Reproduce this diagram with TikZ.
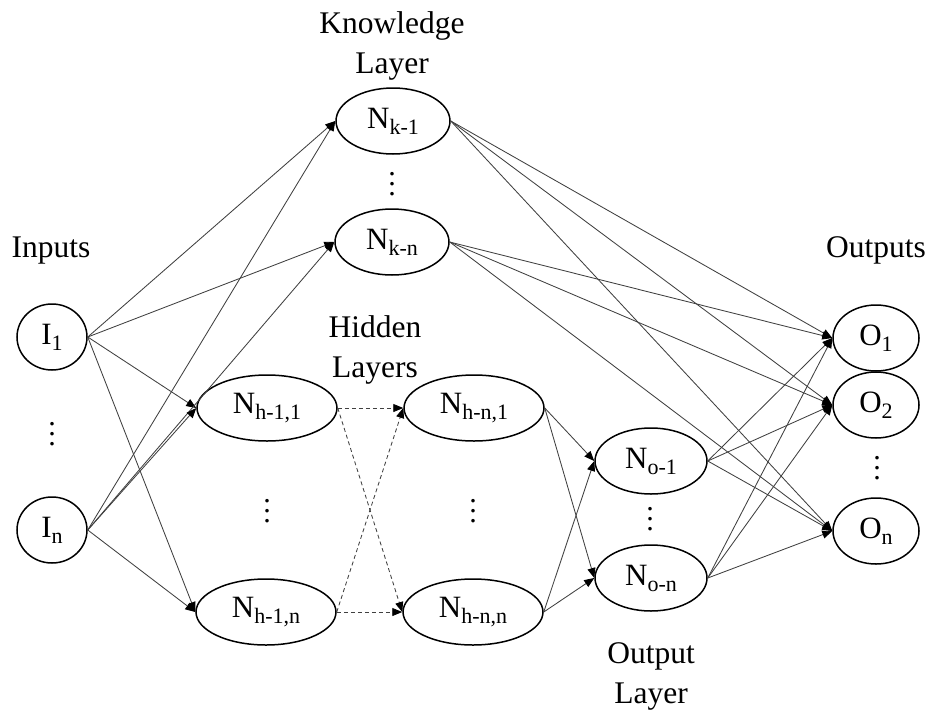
\documentclass[tikz,border=0pt]{standalone}
\usepackage{fontspec}
\setmainfont{Liberation Serif}
\usetikzlibrary{arrows.meta,shapes.geometric}

% text sizes
\newcommand{\lblfont}{\fontsize{31.5}{40}\selectfont}
\newcommand{\nmain}{\fontsize{31}{31}\selectfont}
\newcommand{\nsub}[1]{\raisebox{-6pt}{\fontsize{22}{22}\selectfont #1}}
% vertical ellipsis with wider dot spacing
\newcommand{\bigvdots}{\fontsize{30}{30}\selectfont
  \vbox{\baselineskip=10pt \lineskiplimit=0pt \hbox{.}\hbox{.}\hbox{.}}}

\begin{document}
\begin{tikzpicture}[x=1pt,y=-1pt,
  neuron/.style={draw=black, line width=1.5pt, ellipse, inner sep=0pt,
    minimum height=66pt, font=\nmain},
  inout/.style={neuron, minimum width=70pt},
  outn/.style={neuron, minimum width=86pt},
  knode/.style={neuron, minimum width=114pt},
  hnode/.style={neuron, minimum width=140pt},
  onode/.style={neuron, minimum width=112pt},
  layerlbl/.style={font=\lblfont, align=center, anchor=base, inner sep=0pt},
  vdotsnode/.style={inner sep=0pt},
  conn/.style={draw=black!75, line width=0.85pt,
    -{Triangle[length=10pt,width=8pt,color=black]}},
  dashconn/.style={conn, dash pattern=on 4pt off 3pt}
]
\useasboundingbox (0,0) rectangle (933,712);

% layer captions (base anchor sits on the last line)
\node[layerlbl] (capK) at (392,73) {Knowledge\\Layer};
\node[layerlbl] (capI) at (51,257) {Inputs};
\node[layerlbl] (capO) at (876,257) {Outputs};
\node[layerlbl] (capH) at (375,377) {Hidden\\Layers};
\node[layerlbl] (capOL) at (651,703) {Output\\Layer};

% inputs
\node[inout] (I1) at (52,337) {I\nsub{1}};
\node[inout] (In) at (52,530) {I\nsub{n}};
\node[vdotsnode] (dI) at (52,434) {\bigvdots};

% knowledge layer
\node[knode] (K1) at (393,121) {N\nsub{k-1}};
\node[knode] (Kn) at (392,242) {N\nsub{k-n}};
\node[vdotsnode] (dK) at (392,184) {\bigvdots};

% hidden layers
\node[hnode] (H11) at (267,408) {N\nsub{h-1,1}};
\node[hnode] (H1n) at (266,612) {N\nsub{h-1,n}};
\node[vdotsnode] (dH1) at (267,511) {\bigvdots};
\node[hnode] (Hn1) at (474,408) {N\nsub{h-n,1}};
\node[hnode] (Hnn) at (473,612) {N\nsub{h-n,n}};
\node[vdotsnode] (dHn) at (473,511) {\bigvdots};

% output layer
\node[onode] (O1n) at (651,461) {N\nsub{o-1}};
\node[onode] (Onn) at (651,578) {N\nsub{o-n}};
\node[vdotsnode] (dOL) at (650,519) {\bigvdots};

% outputs
\node[outn] (Y1) at (876,338) {O\nsub{1}};
\node[outn] (Y2) at (876,405) {O\nsub{2}};
\node[outn] (Yn) at (876,531) {O\nsub{n}};
\node[vdotsnode] (dY) at (877,468) {\bigvdots};

% inputs to knowledge and first hidden layer
\foreach \s in {I1,In}{
  \foreach \t in {K1,Kn,H11,H1n}{
    \draw[conn] (\s.east) -- (\t.west);
  }
}

% between hidden layers
\foreach \s in {H11,H1n}{
  \foreach \t in {Hn1,Hnn}{
    \draw[dashconn] (\s.east) -- (\t.west);
  }
}

% last hidden layer to output layer
\foreach \s in {Hn1,Hnn}{
  \foreach \t in {O1n,Onn}{
    \draw[conn] (\s.east) -- (\t.west);
  }
}

% knowledge and output layers to outputs
\foreach \s in {K1,Kn,O1n,Onn}{
  \foreach \t in {Y1,Y2,Yn}{
    \draw[conn] (\s.east) -- (\t.west);
  }
}
\end{tikzpicture}
\end{document}
